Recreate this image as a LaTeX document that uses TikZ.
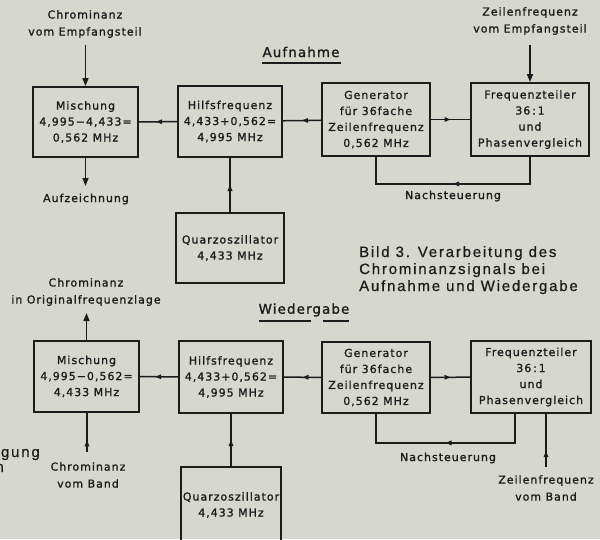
\documentclass[tikz,border=0pt]{standalone}
\usepackage{fontspec}
\newfontfamily\boxfont[LetterSpace=9,FakeBold=1.2]{DejaVu Sans}
\newfontfamily\ttlfont[LetterSpace=8,FakeBold=1.2]{DejaVu Sans}
\newfontfamily\capfont[LetterSpace=12,FakeBold=0.6]{Liberation Sans}
\usetikzlibrary{arrows.meta,decorations.markings,calc}
\definecolor{paper}{RGB}{214,216,208}
\definecolor{ink}{RGB}{28,28,28}
\tikzset{
  box/.style={draw=ink, line width=1.8pt, align=center, inner sep=0pt, text=ink,
    font=\boxfont\fontsize{11}{16}\selectfont},
  lbl/.style={align=center, inner sep=0pt, text=ink, font=\boxfont\fontsize{11}{17}\selectfont},
  ttl/.style={inner sep=0pt, text=ink, font=\ttlfont\fontsize{13.5}{16}\selectfont},
  captxt/.style={inner sep=0pt, text=ink, font=\capfont\fontsize{15}{17}\selectfont},
  con/.style={draw=ink, line width=1.5pt},
  arr/.style={con, -{Triangle[length=8pt,width=6pt]}},
  midarr/.style={con, postaction={decorate}, decoration={markings,
    mark=at position #1 with {\arrow[ink]{Triangle[length=6pt,width=4.5pt]}}}},
  midarr/.default=0.5
}
\begin{document}
\begin{tikzpicture}[x=1pt,y=-1pt]
\fill[paper] (0,0) rectangle (600,539);
\clip (0,0) rectangle (600,539);

% ---------- Aufnahme ----------
\node[box, minimum width=105pt, minimum height=70pt] (m1) at (85.5,122) {Mischung\\4,995−4,433=\\0,562 MHz};
\node[box, minimum width=104pt, minimum height=71pt] (h1) at (230,121.5) {Hilfsfrequenz\\4,433+0,562=\\4,995 MHz};
\node[box, minimum width=108pt, minimum height=73pt] (g1) at (376,119.5) {Generator\\für 36fache\\Zeilenfrequenz\\0,562 MHz};
\node[box, minimum width=118pt, minimum height=73pt] (f1) at (530,119.5) {Frequenzteiler\\36\,:\,1\\und\\Phasenvergleich};
\node[box, minimum width=108pt, minimum height=70pt] (q1) at (230,248) {Quarzoszillator\\4,433 MHz};

\node[lbl] (t1) at (85,24) {Chrominanz\\vom Empfangsteil};
\node[lbl] (t2) at (86,199) {Aufzeichnung};
\node[lbl] (t3) at (530,21) {Zeilenfrequenz\\vom Empfangsteil};
\node[lbl] (t4) at (453,196) {Nachsteuerung};
\node[ttl] (ta) at (301,52) {Aufnahme};
\draw[con] (262,63) -- (341,63);

\coordinate (c1) at (85.5,45);
\coordinate (c2) at (85.5,186);
\coordinate (c3) at (530,45);
\draw[arr] (c1) -- (m1);
\draw[arr] (m1) -- (c2);
\draw[arr] (c3) -- (f1);
\draw[midarr=0.55] (h1) -- (m1);
\draw[midarr] (g1) -- (h1);
\draw[midarr] (g1) -- (f1);
\draw[midarr] (q1) -- (h1);
\draw[midarr] (f1.south) -- ++(0,27) -| (g1.south);

% ---------- Caption ----------
\node[captxt, anchor=base west] (cp1) at (359,257) {Bild 3. Verarbeitung des};
\node[captxt, anchor=base west] (cp2) at (359,274) {Chrominanzsignals bei};
\node[captxt, anchor=base west] (cp3) at (359,291) {Aufnahme und Wiedergabe};

% ---------- Wiedergabe ----------
\node[box, minimum width=105pt, minimum height=71pt] (m2) at (86.5,376.5) {Mischung\\4,995−0,562=\\4,433 MHz};
\node[box, minimum width=104pt, minimum height=72pt] (h2) at (231,377) {Hilfsfrequenz\\4,433+0,562=\\4,995 MHz};
\node[box, minimum width=108pt, minimum height=71pt] (g2) at (376,377.5) {Generator\\für 36fache\\Zeilenfrequenz\\0,562 MHz};
\node[box, minimum width=120pt, minimum height=72pt] (f2) at (531,377) {Frequenzteiler\\36\,:\,1\\und\\Phasenvergleich};
\node[box, minimum width=100pt, minimum height=76pt] (q2) at (231,505) {Quarzoszillator\\4,433 MHz};

\node[lbl] (t5) at (86,292) {Chrominanz\\in Originalfrequenzlage};
\node[lbl] (t6) at (448,458) {Nachsteuerung};
\node[lbl] (t7) at (546,488) {Zeilenfrequenz\\vom Band};
\node[lbl] (t8) at (88,475) {Chrominanz\\vom Band};
\node[ttl] (tw) at (304,310) {Wiedergabe};
\draw[con] (259,321) -- (311,321);
\draw[con] (323,321) -- (349,321);

\node[captxt, anchor=base east] (pe) at (40,457) {egung};
\node[captxt, anchor=base east] (pn) at (4,472) {n};

\coordinate (co) at (86.5,313);
\coordinate (cb) at (87,452);
\coordinate (zb) at (546,467);
\draw[arr] (m2) -- (co);
\draw[midarr=0.3] (cb) -- (cb |- m2.south);
\draw[midarr=0.3] (zb) -- (zb |- f2.south);
\draw[midarr=0.6] (h2) -- (m2);
\draw[midarr] (g2) -- (h2);
\draw[midarr] (g2) -- (f2);
\draw[midarr] (q2) -- (h2);
\draw[midarr] ($(f2.south)+(-16,0)$) -- ++(0,29) -| (g2.south);
\end{tikzpicture}
\end{document}
